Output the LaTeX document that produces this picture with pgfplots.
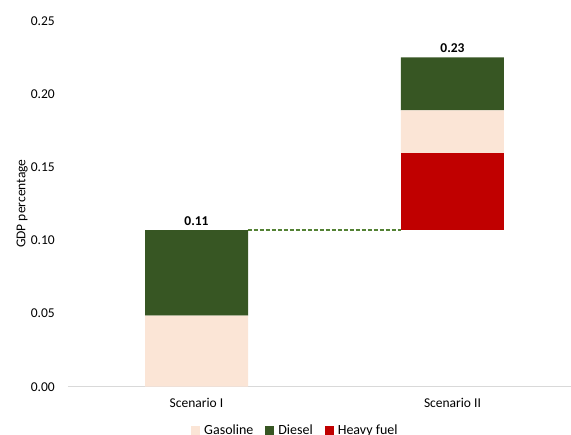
\documentclass[border=0pt]{standalone}
\usepackage{pgfplots}
\pgfplotsset{compat=1.18}
\usepackage{fontspec}
\setmainfont{Carlito}
\definecolor{gas}{HTML}{FBE5D6}
\definecolor{dsl}{HTML}{375623}
\definecolor{hfo}{HTML}{C00000}
\definecolor{dashc}{HTML}{548235}
\definecolor{axgray}{HTML}{D9D9D9}
\begin{document}
\fontsize{13.5bp}{16bp}\selectfont
\begin{tikzpicture}
\begin{axis}[
  scale only axis, width=503bp, height=366bp,
  ybar stacked, bar width=103bp,
  xmin=-0.502, xmax=1.463, ymin=0, ymax=0.25,
  xtick={0,1}, xticklabels={Scenario I, Scenario II},
  ytick={0,0.05,0.10,0.15,0.20,0.25},
  /pgf/number format/assume math mode=true,
  yticklabel style={anchor=east, xshift=-8.5bp, /pgf/number format/fixed, /pgf/number format/fixed zerofill, /pgf/number format/precision=2},
  xticklabel style={anchor=base, yshift=-21bp},
  axis x line*=bottom, axis y line*=left,
  y axis line style={draw=none},
  x axis line style={draw=axgray, line width=1bp, -},
  major tick length=0pt,
  every axis y label/.style={at={([xshift=-42.5bp]rel axis cs:0,0.5)}, rotate=90, anchor=base},
  ylabel={GDP percentage},
  legend columns=3,
  legend style={draw=none, fill=none, at={(0.452,-0.119)}, anchor=center, column sep=0pt, font=\fontsize{14bp}{16bp}\selectfont},
  legend cell align=left,
]
\addplot[fill=none, draw=none, forget plot] coordinates {(0,0) (1,0.107)};
\addplot[fill=hfo, draw=none, forget plot] coordinates {(0,0) (1,0.0526)};
\addplot[fill=gas, draw=none, forget plot] coordinates {(0,0.0485) (1,0.0292)};
\addplot[fill=dsl, draw=none, forget plot] coordinates {(0,0.0585) (1,0.0362)};
\addplot[sharp plot, stack plots=false, no marks, draw=dashc, line width=1.5bp, dash pattern=on 4bp off 2bp, forget plot]
  coordinates {(0.2,0.107) (0.8,0.107)};
\node[anchor=south, font=\bfseries] at (axis cs:0,0.107) {0.11};
\node[anchor=south, font=\bfseries] at (axis cs:1,0.225) {0.23};
\addlegendimage{legend image code/.code={\path[draw=none,fill=none] (0bp,0bp) rectangle (11bp,0.1bp); \fill[gas] (0bp,-4bp) rectangle (8bp,4bp);}}
\addlegendentry{Gasoline}
\addlegendimage{legend image code/.code={\path[draw=none,fill=none] (-10bp,0bp) rectangle (11bp,0.1bp); \fill[dsl] (0bp,-4bp) rectangle (8bp,4bp);}}
\addlegendentry{Diesel}
\addlegendimage{legend image code/.code={\path[draw=none,fill=none] (-10bp,0bp) rectangle (11bp,0.1bp); \fill[hfo] (0bp,-4bp) rectangle (8bp,4bp);}}
\addlegendentry{Heavy fuel}
\coordinate (bl) at (rel axis cs:0,0);
\coordinate (tr) at (rel axis cs:1,1);
\end{axis}
\pgfresetboundingbox
\path ([shift={(-68bp,-48.3bp)}]bl) rectangle ([shift={(0bp,20.7bp)}]tr);
\end{tikzpicture}
\end{document}
